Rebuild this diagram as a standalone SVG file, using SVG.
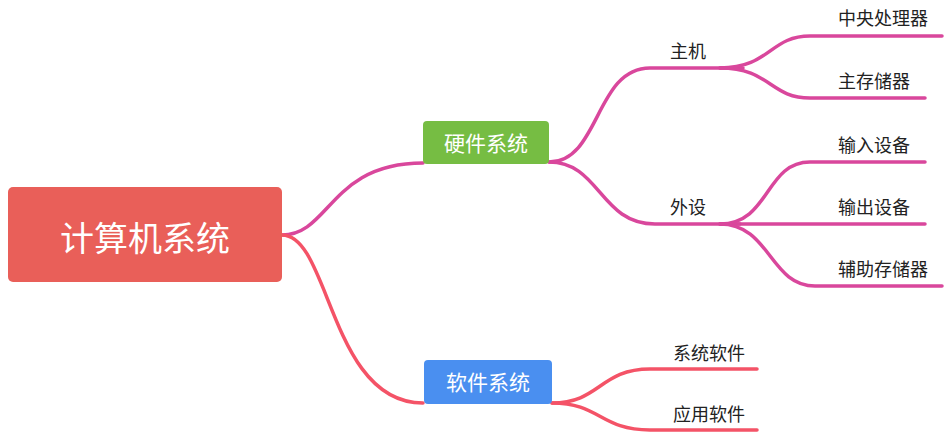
<svg xmlns="http://www.w3.org/2000/svg" width="946" height="443" viewBox="0 0 946 443">
<style>
.c{fill:none;stroke-width:3.5;stroke-linecap:round}
.p{stroke:#D9479C}
.r{stroke:#F45367}
.t{font-family:"Noto Sans CJK SC","Noto Sans",sans-serif;font-size:18px;fill:#222}
.w{font-family:"Noto Sans CJK SC","Noto Sans",sans-serif;fill:#fff;text-anchor:middle}
</style>
<rect width="946" height="443" fill="#fff"/>
<g id="connectors">
<path class="c p" d="M282,235 C330,235 330,163 423,163"/>
<path class="c r" d="M282,235 C330,235 330,403 423,403"/>
<path class="c p" d="M549,162 C600,162 595,68 650,68 L743,68"/>
<path class="c p" d="M549,162 C600,162 600,224 655,224 L740,224"/>
<path class="c p" d="M720,68 C770,68 770,36 810,36 L942,36"/>
<path class="c p" d="M720,68 C770,68 770,98 810,98 L925,98"/>
<path class="c p" d="M720,224 C770,224 765,162 810,162 L925,162"/>
<path class="c p" d="M720,224 L925,224"/>
<path class="c p" d="M720,224 C770,224 770,286 815,286 L942,286"/>
<path class="c r" d="M552,403 C600,403 600,369 650,369 L757,369"/>
<path class="c r" d="M552,403 C600,403 600,430 650,430 L757,430"/>
</g>
<g id="root">
<rect x="8" y="187" width="274" height="95" rx="5" fill="#E95F59"/>
<text class="w" x="145" y="251" font-size="34">计算机系统</text>
</g>
<g id="hardware">
<rect x="423" y="121" width="126" height="43" rx="4" fill="#76BD43"/>
<text class="w" x="486" y="151" font-size="21">硬件系统</text>
</g>
<g id="software">
<rect x="424" y="360" width="128" height="44" rx="4" fill="#4A8FF0"/>
<text class="w" x="488" y="390" font-size="21">软件系统</text>
</g>
<g id="host"><text class="t" x="670" y="58">主机</text></g>
<g id="cpu"><text class="t" x="838" y="25">中央处理器</text></g>
<g id="mainmem"><text class="t" x="838" y="88">主存储器</text></g>
<g id="periph"><text class="t" x="670" y="214">外设</text></g>
<g id="input"><text class="t" x="838" y="152">输入设备</text></g>
<g id="output"><text class="t" x="838" y="214">输出设备</text></g>
<g id="auxmem"><text class="t" x="838" y="276">辅助存储器</text></g>
<g id="syssw"><text class="t" x="673" y="360">系统软件</text></g>
<g id="appsw"><text class="t" x="673" y="421">应用软件</text></g>
</svg>
